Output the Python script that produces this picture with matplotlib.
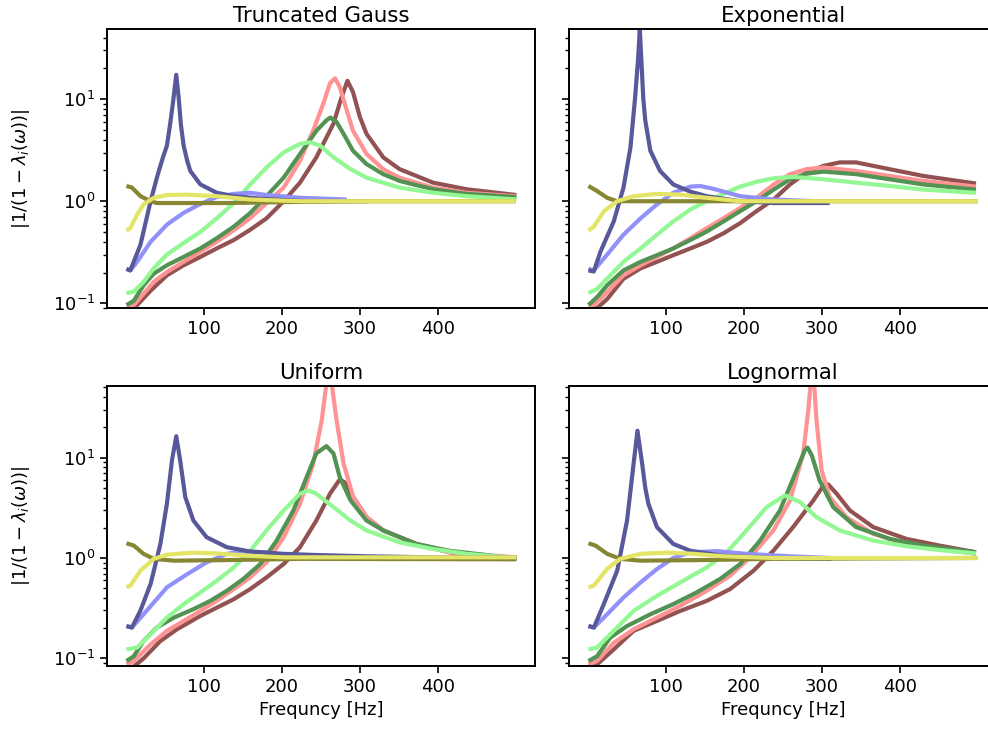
import numpy as np
import matplotlib
matplotlib.use("Agg")
import matplotlib.pyplot as plt

# puntos: (frecuencia [Hz], |1/(1-lambda_i)|)
# ---- Truncated Gauss
gauss_navy = [(0, 0.217), (5, 0.21), (18, 0.375), (31, 1.0), (40, 1.8), (47, 2.7), (52, 3.5), (56, 5.6),
              (60, 9.5), (64, 17.3), (67, 10.5), (70, 5.6), (73.5, 3.5), (78, 2.5), (82, 1.98), (95, 1.46),
              (116, 1.21), (138, 1.12), (180, 1.05), (230, 1.0), (310, 1.0)]
gauss_lblue = [(0, 0.218), (5, 0.21), (13.7, 0.255), (31, 0.40), (52, 0.59), (73.5, 0.77), (95, 0.94),
               (116, 1.10), (138, 1.18), (159, 1.21), (180, 1.15), (223, 1.08), (283, 1.04)]
gauss_lgreen = [(0, 0.126), (9.4, 0.13), (22, 0.162), (35, 0.22), (52, 0.30), (73.5, 0.39), (95, 0.50),
                (116, 0.68), (138, 0.96), (159, 1.46), (180, 2.14), (202, 3.01), (223, 3.64), (236, 3.78),
                (249, 3.5), (266, 2.69), (288, 2.06), (308.5, 1.70), (351, 1.36), (394, 1.21), (437, 1.12),
                (501, 1.04)]
gauss_dgreen = [(0, 0.096), (9.4, 0.106), (22, 0.15), (35, 0.195), (52, 0.236), (73.5, 0.285), (95, 0.345),
                (116, 0.434), (138, 0.565), (159, 0.766), (180, 1.12), (202, 1.70), (223, 2.90), (244.4, 4.93),
                (257, 6.2), (262, 6.6), (270, 5.97), (279, 4.57), (291, 3.13), (308.5, 2.31), (330, 1.84),
                (351, 1.58), (394, 1.31), (437, 1.18), (501, 1.10)]
gauss_pink = [(0, 0.088), (9.4, 0.096), (22, 0.124), (35, 0.162), (52, 0.203), (73.5, 0.255), (95, 0.32),
              (116, 0.40), (138, 0.52), (159, 0.68), (180, 0.96), (202, 1.36), (223, 2.49), (240, 4.93),
              (253, 9.06), (261.5, 14.3), (268, 16.0), (274, 13.2), (283, 7.8), (291, 4.93), (308.5, 2.90),
              (330, 2.06), (351, 1.70), (394, 1.36), (437, 1.21), (501, 1.12)]
gauss_brown = [(0, 0.082), (13.7, 0.096), (31, 0.133), (52, 0.188), (73.5, 0.236), (95, 0.285), (116, 0.345),
               (138, 0.417), (159, 0.525), (180, 0.68), (202, 1.0), (223, 1.52), (244, 2.69), (266, 5.74),
               (276.5, 10.5), (284, 15.1), (291, 11.8), (300, 6.68), (308.5, 4.57), (330, 2.69), (351, 2.06),
               (394, 1.52), (437, 1.31), (501, 1.15)]
gauss_olive = [(0, 1.41), (7, 1.36), (18, 1.12), (31, 1.0), (39, 0.96), (130, 0.96), (200, 0.98), (300, 1.0),
               (500, 1.0)]
gauss_yellow = [(0, 0.516), (5, 0.545), (13.7, 0.74), (22, 0.93), (35, 1.08), (52, 1.15), (78, 1.16),
                (116, 1.12), (159, 1.04), (223, 1.0), (500, 1.0)]

# ---- Exponential
expo_navy = [(0, 0.21), (6.8, 0.205), (15.4, 0.32), (32.5, 0.634), (45, 1.36), (54, 3.37), (60, 10.5),
             (63.7, 24.3), (66, 48), (68, 24), (70.5, 10.0), (73, 6.2), (79.5, 3.13), (92, 1.98), (109, 1.46),
             (131, 1.24), (152, 1.12), (195, 1.0), (238, 0.96), (310, 0.96)]
expo_lblue = [(0, 0.218), (6.8, 0.21), (24, 0.30), (45, 0.47), (67, 0.68), (88, 0.93), (109, 1.21),
              (131, 1.39), (143.6, 1.41), (161, 1.32), (195, 1.12), (238, 1.04), (293, 1.0)]
expo_lgreen = [(0, 0.126), (11, 0.138), (24, 0.174), (45, 0.255), (67, 0.345), (88, 0.47), (109, 0.634),
               (131, 0.83), (152, 1.0), (173.5, 1.18), (195, 1.39), (216, 1.55), (238, 1.68), (263, 1.73),
               (302, 1.64), (344, 1.52), (387, 1.41), (430, 1.30), (498, 1.21)]
expo_dgreen = [(0, 0.096), (11, 0.115), (24, 0.15), (45, 0.21), (67, 0.255), (88, 0.296), (109, 0.345),
               (131, 0.417), (152, 0.505), (173.5, 0.634), (195, 0.80), (216, 1.0), (238, 1.30), (259, 1.64),
               (280, 1.86), (302, 1.95), (344, 1.84), (387, 1.64), (430, 1.46), (498, 1.30)]
expo_pink = [(0, 0.088), (15, 0.11), (45, 0.188), (67, 0.236), (88, 0.285), (109, 0.345), (131, 0.434),
             (152, 0.545), (173.5, 0.68), (195, 0.86), (216, 1.08), (238, 1.46), (259, 1.84), (280, 2.06),
             (302, 2.14), (344, 1.98), (387, 1.77), (430, 1.58), (498, 1.39)]
expo_brown = [(0, 0.087), (11, 0.09), (24, 0.11), (45, 0.174), (67, 0.22), (88, 0.255), (109, 0.296),
              (131, 0.345), (152, 0.40), (173.5, 0.485), (195, 0.61), (216, 0.80), (238, 1.04), (259, 1.46),
              (280, 1.91), (302, 2.22), (323, 2.40), (344, 2.40), (387, 2.06), (430, 1.77), (498, 1.49)]
expo_olive = [(0, 1.41), (11, 1.26), (24, 1.08), (37, 1.0), (178, 1.0), (500, 1.0)]
expo_yellow = [(0, 0.516), (7, 0.565), (20, 0.80), (37, 1.0), (58, 1.12), (88, 1.18), (118, 1.16),
               (152, 1.08), (195, 1.0), (500, 1.0)]

# ---- Uniform
unif_navy = [(0, 0.21), (7, 0.203), (18, 0.30), (31, 0.55), (43.6, 1.38), (52, 3.47), (58.5, 9.4), (64, 16.3),
             (69, 9.4), (75.6, 4.04), (86, 2.36), (103, 1.61), (129, 1.28), (159, 1.16), (202, 1.10),
             (244, 1.07), (308.5, 1.04), (394, 1.015), (501, 1.015)]
unif_lblue = [(0, 0.21), (7, 0.203), (22, 0.275), (52, 0.51), (78, 0.69), (103, 0.905), (129, 1.10),
              (150, 1.16), (180, 1.14)]
unif_lgreen = [(0, 0.123), (13.7, 0.128), (31, 0.174), (52, 0.255), (73.5, 0.347), (95, 0.454), (116, 0.593),
               (138, 0.807), (159, 1.18), (180, 1.88), (202, 2.97), (223, 4.36), (234, 4.71), (244, 4.36),
               (266, 3.21), (288, 2.36), (308.5, 1.88), (351, 1.43), (394, 1.23), (437, 1.10), (501, 1.0)]
unif_dgreen = [(0, 0.094), (9.4, 0.105), (22, 0.149), (39, 0.203), (61, 0.255), (86, 0.309), (107.7, 0.374),
               (129, 0.471), (150, 0.617), (172, 0.871), (193, 1.49), (214.5, 2.97), (231.6, 6.41), (244, 11.0),
               (257, 13.0), (266, 11.0), (274, 6.41), (288, 3.74), (308.5, 2.36), (330, 1.88), (372.6, 1.38),
               (415, 1.18), (458, 1.08), (501, 0.98)]
unif_pink = [(0, 0.087), (9.4, 0.094), (31, 0.138), (52, 0.188), (73.5, 0.236), (95, 0.297), (116, 0.374),
             (138, 0.49), (159, 0.64), (180, 0.905), (202, 1.61), (223, 3.47), (240, 8.7), (251, 23.6),
             (257, 55), (263.7, 55), (270, 23.6), (279, 8.7), (291.5, 4.04), (308.5, 2.55), (330, 1.88),
             (372.6, 1.38), (415, 1.14), (501, 1.015)]
unif_brown = [(0, 0.08), (9.4, 0.083), (22, 0.10), (43.6, 0.149), (65, 0.195), (95, 0.265), (116, 0.32),
              (138, 0.389), (159, 0.49), (180, 0.64), (202, 0.871), (223, 1.28), (244, 2.36), (261.5, 4.36),
              (274, 6.03), (280, 5.7), (291.5, 4.04), (308.5, 2.55), (330, 1.88), (372.6, 1.38), (415, 1.14),
              (458, 1.02), (501, 0.98)]
unif_olive = [(0, 1.40), (9.4, 1.33), (22, 1.10), (35, 0.98), (61, 0.94), (138, 0.955), (223, 0.98),
              (501, 0.97)]
unif_yellow = [(0, 0.51), (5, 0.53), (18, 0.75), (35, 0.98), (52, 1.08), (86, 1.13), (116, 1.11), (159, 1.05),
               (202, 1.015), (501, 1.015)]

# ---- Lognormal
logn_navy = [(0, 0.21), (7, 0.203), (19.7, 0.347), (37, 0.75), (49.6, 2.36), (58, 8.7), (63, 18.5), (69, 8.7),
             (73, 5.0), (77, 3.47), (88, 2.03), (109, 1.38), (131, 1.18), (173.5, 1.05), (238, 1.0), (312, 0.98)]
logn_lblue = [(0, 0.21), (7, 0.203), (24, 0.275), (45, 0.404), (67, 0.571), (88, 0.776), (109, 1.0),
              (131, 1.14), (165, 1.17), (203, 1.10), (259, 1.04), (310, 1.0)]
logn_lgreen = [(0, 0.123), (11, 0.128), (32.5, 0.188), (58, 0.297), (88, 0.42), (118, 0.571), (152, 0.807),
               (178, 1.14), (203, 1.88), (229, 3.21), (252.6, 4.2), (272, 3.6), (293, 2.55), (323, 1.88),
               (366, 1.49), (408.5, 1.31), (451, 1.20), (498, 1.11)]
logn_dgreen = [(0, 0.094), (11, 0.105), (28, 0.161), (49.6, 0.21), (79.5, 0.275), (109, 0.347), (139, 0.454),
               (169, 0.617), (195, 0.871), (220.5, 1.49), (246, 2.97), (267.5, 7.47), (278, 11.8), (281.6, 12.6),
               (287, 10.5), (297, 5.93), (314.5, 3.21), (344, 2.03), (387, 1.55), (430, 1.33), (498, 1.14)]
logn_pink = [(0, 0.087), (11, 0.094), (32.5, 0.143), (58, 0.195), (88, 0.255), (118, 0.334), (152, 0.471),
             (182, 0.666), (207.7, 1.015), (237.6, 1.88), (259, 3.74), (276, 11.0), (282.5, 29.7), (285.5, 55),
             (290, 55), (293, 23.6), (299.6, 7.47), (310, 4.04), (331.6, 2.55), (366, 1.74), (408.5, 1.38),
             (451, 1.23), (498, 1.10)]
logn_brown = [(0, 0.083), (11, 0.087), (32.5, 0.123), (58, 0.188), (88, 0.236), (118, 0.297), (152, 0.374),
              (182, 0.49), (212, 0.746), (237.6, 1.18), (263, 2.03), (289, 3.74), (302, 5.28), (308, 5.41),
              (319, 4.36), (336, 2.97), (366, 2.03), (408.5, 1.55), (451, 1.33), (498, 1.14)]
logn_olive = [(0, 1.40), (9, 1.33), (24, 1.10), (41, 0.98), (67, 0.94), (152, 0.955), (238, 0.98), (500, 1.0)]
logn_yellow = [(0, 0.51), (7, 0.53), (24, 0.78), (41, 0.98), (67, 1.10), (101, 1.13), (135, 1.10),
               (173.5, 1.04), (238, 1.0), (500, 1.0)]

titulos = ["Truncated Gauss", "Exponential", "Uniform", "Lognormal"]
paneles = [
    [gauss_brown, gauss_pink, gauss_dgreen, gauss_lgreen, gauss_lblue, gauss_navy, gauss_olive, gauss_yellow],
    [expo_brown, expo_pink, expo_dgreen, expo_lgreen, expo_lblue, expo_navy, expo_olive, expo_yellow],
    [unif_brown, unif_pink, unif_dgreen, unif_lgreen, unif_lblue, unif_navy, unif_olive, unif_yellow],
    [logn_brown, logn_pink, logn_dgreen, logn_lgreen, logn_lblue, logn_navy, logn_olive, logn_yellow],
]
colores = ["#925252", "#ff9393", "#529252", "#93f793", "#9191f9", "#58589a", "#878733", "#e4e466"]

fig = plt.figure(figsize=(9.88, 7.35), dpi=100)
W, H = 988.0, 735.0
# [left, top, right, bottom] en pixeles
cajas = [(107, 29, 535, 308), (569, 29, 997, 308), (107, 386, 535, 666), (569, 386, 997, 666)]
ylims = [(0.090, 48.6), (0.090, 48.6), (0.084, 51.6), (0.084, 51.6)]

for k in range(4):
    l, t, r, b = cajas[k]
    ax = fig.add_axes([l / W, 1 - b / H, (r - l) / W, (b - t) / H])
    for c, serie in zip(colores, paneles[k]):
        xs = [p[0] for p in serie]
        ys = [p[1] for p in serie]
        ax.plot(xs, ys, color=c, lw=3.0, solid_capstyle="butt", solid_joinstyle="round")
    ax.set_yscale("log")
    ax.set_xlim(-25, 525)
    ax.set_ylim(*ylims[k])
    ax.set_xticks([100, 200, 300, 400])
    ax.set_title(titulos[k], fontsize=15.3, pad=5)
    ax.tick_params(which="major", length=5, width=1.2, labelsize=13)
    ax.tick_params(which="minor", length=3, width=1.0)
    for s in ax.spines.values():
        s.set_linewidth(1.4)
    if k % 2 == 1:
        ax.tick_params(labelleft=False)
    else:
        ax.set_ylabel(r"$|1/(1-\lambda_i(\omega))|$", fontsize=13)
        ax.yaxis.set_label_coords(-0.175, 0.5)
    if k >= 2:
        ax.set_xlabel("Frequncy [Hz]", fontsize=13)

plt.savefig("out.png", dpi=100)
